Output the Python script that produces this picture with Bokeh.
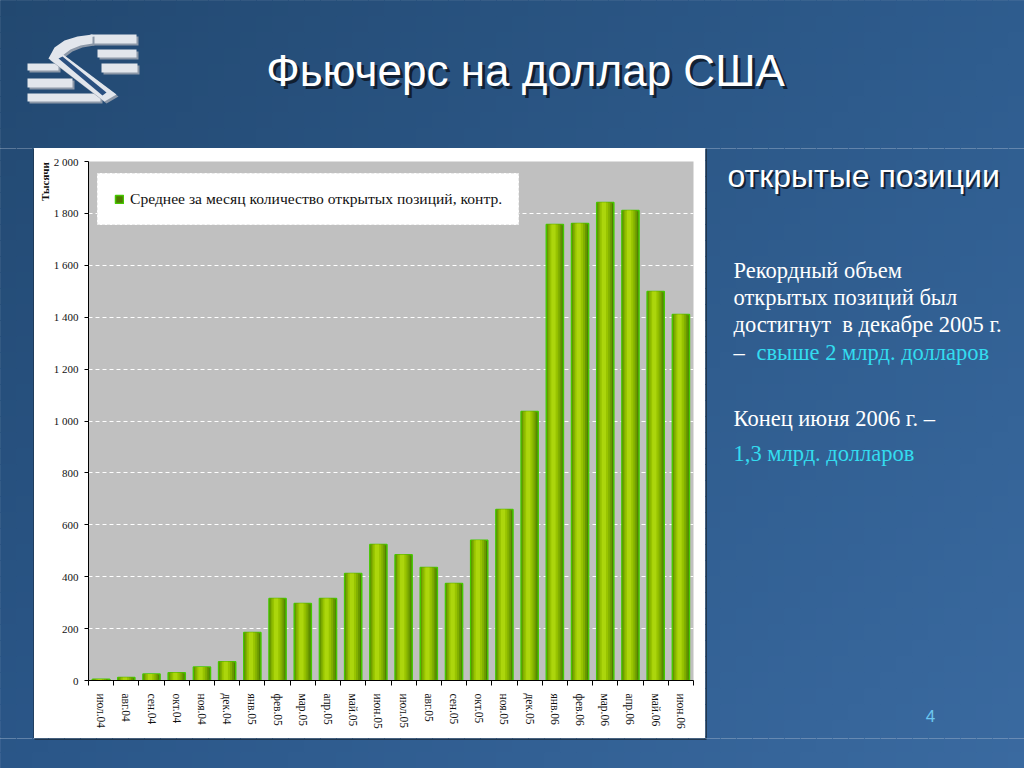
import numpy as np
from bokeh.plotting import figure
from bokeh.layouts import column, row
from bokeh.models import (Range1d, LinearAxis, FixedTicker, Legend, LegendItem,
                          ColumnDataSource, Grid)
from bokeh.core.properties import value
from bokeh.transform import dodge
from bokeh.embed import file_html
from bokeh.resources import INLINE

# ---------------- data ----------------
months = ["июл.04", "авг.04", "сен.04", "окт.04", "ноя.04", "дек.04",
          "янв.05", "фев.05", "мар.05", "апр.05", "май.05", "июн.05",
          "июл.05", "авг.05", "сен.05", "окт.05", "ноя.05", "дек.05",
          "янв.06", "фев.06", "мар.06", "апр.06", "май.06", "июн.06"]
open_interest = [5, 12, 25, 30, 52, 72,
                 185, 316, 297, 316, 412, 524,
                 485, 435, 374, 540, 659, 1037,
                 1757, 1761, 1842, 1811, 1499, 1410]
y_ticks = [0, 200, 400, 600, 800, 1000, 1200, 1400, 1600, 1800, 2000]
y_tick_labels = ["0", "200", "400", "600", "800", "1 000", "1 200",
                 "1 400", "1 600", "1 800", "2 000"]
series_name = "Среднее за месяц количество открытых позиций, контр."
title_text = "Фьючерс на доллар США"
subtitle_text = "открытые позиции"
y_unit = "Тысячи"
note_lines = ["Рекордный объем", "открытых позиций был", "достигнут\u00a0 в декабре 2005 г."]
note_dash = "–"
note_highlight = "свыше 2 млрд. долларов"
note2 = "Конец июня 2006 г. –"
note2_highlight = "1,3 млрд. долларов"
page_no = "4"

W, H = 1024, 768
BOX_L, BOX_T, BOX_R, BOX_B = 34, 148, 705, 738
SERIF = "Liberation Serif"
SANS = "Liberation Sans"
CYAN = "#33dcef"

# slide background gradient corners
TL, TR, BL, BR = (np.array([34, 72, 112]), np.array([46, 92, 142]),
                  np.array([42, 86, 136]), np.array([58, 106, 160]))


def grad_color(x, y):
    u, v = x / W, y / H
    c = TL * (1 - u) * (1 - v) + TR * u * (1 - v) + BL * (1 - u) * v + BR * u * v
    return "#%02x%02x%02x" % tuple(int(round(k)) for k in c)


def deco_fig(x0, y0, x1, y1, gradient=True, fill=None):
    f = figure(width=x1 - x0, height=y1 - y0, x_range=Range1d(x0, x1),
               y_range=Range1d(H - y1, H - y0), x_axis_type=None, y_axis_type=None,
               toolbar_location=None, output_backend="svg", min_border=0,
               frame_align=False)
    if fill is None:
        fill = grad_color((x0 + x1) / 2, (y0 + y1) / 2)
    f.outline_line_color = None
    f.border_fill_color = fill
    f.background_fill_color = fill
    if gradient:
        cs = 16
        L, R, T, B, C = [], [], [], [], []
        for gx in range((x0 // cs) * cs - cs, x1 + cs, cs):
            for gy in range((y0 // cs) * cs - cs, y1 + cs, cs):
                L.append(gx)
                R.append(gx + cs)
                T.append(H - gy)
                B.append(H - gy - cs)
                C.append(grad_color(gx + cs / 2, gy + cs / 2))
        f.quad(left=L, right=R, top=T, bottom=B, fill_color=C, line_color=C, line_width=1)
    return f


def txt(f, x, y, text, size, color="#ffffff", font=SANS, align="left", shadow=None,
        style="normal", angle=0.0):
    if shadow:
        f.text(x=[x + shadow], y=[H - y - shadow], text=[text], text_font=value(font),
               text_font_size=value(size), text_color="#0a0f18", text_alpha=0.75,
               text_align=align, text_baseline="middle", text_font_style=style, angle=angle)
    f.text(x=[x], y=[H - y], text=[text], text_font=value(font), text_font_size=value(size),
           text_color=color, text_align=align, text_baseline="middle",
           text_font_style=style, angle=angle)


# ---------------- top strip: logo + title ----------------
top = deco_fig(0, 0, W, BOX_T, fill=grad_color(W / 2, BOX_T))
silver = "#e2e6ec"
shade = "#8c98a8"
bars_l = [90, 97, 101, 27, 27, 27]
bars_r = [136, 136, 137, 58, 72, 100]
bars_t = [34, 49, 63, 63, 78, 93]
bars_b = [43, 57, 72, 70, 87, 101]
top.quad(left=[v + 2 for v in bars_l], right=[v + 2 for v in bars_r],
         top=[H - v - 2 for v in bars_t], bottom=[H - v - 2 for v in bars_b],
         fill_color=shade, line_color=None)
top.quad(left=bars_l, right=bars_r, top=[H - v for v in bars_t], bottom=[H - v for v in bars_b],
         fill_color=silver, line_color=None)
arc_x = [48, 54, 64, 77, 92, 92, 80, 70, 62, 57]
arc_y = [58, 47, 40, 36, 34, 43, 45, 49, 55, 61]
top.patch(x=[v + 2 for v in arc_x], y=[H - v - 2 for v in arc_y], fill_color=shade, line_color=None)
top.patch(x=arc_x, y=[H - v for v in arc_y], fill_color=silver, line_color=None)
diag_x = [48, 60, 116, 104]
diag_y = [58, 52, 94, 101]
top.patch(x=[v + 2 for v in diag_x], y=[H - v - 2 for v in diag_y], fill_color=shade, line_color=None)
top.patch(x=diag_x, y=[H - v for v in diag_y], fill_color=silver, line_color=None)
slit_x = [58, 62, 106, 102]
slit_y = [58, 56, 92, 95]
top.patch(x=slit_x, y=[H - v for v in slit_y], fill_color="#2a5080", line_color=None)
txt(top, 525, 70, title_text, "44px", align="center", shadow=3)

# ---------------- middle row ----------------
left_strip = deco_fig(0, BOX_T, BOX_L, BOX_B)
left_strip.segment(x0=[BOX_L - 0.5], y0=[H - BOX_T], x1=[BOX_L - 0.5], y1=[H - BOX_B],
                   line_color="#1a2a3a", line_width=1)

unit_strip = deco_fig(BOX_L, BOX_T, 50, BOX_B, gradient=False, fill="#ffffff")
txt(unit_strip, 44, 181, y_unit, "11px", color="#111111", font=SERIF, align="center",
    style="bold", angle=np.pi / 2)

src = ColumnDataSource(dict(x=list(range(len(months))), top=open_interest))
FL, FR, FT, FB = 88, 693, 161, 680
p = figure(width=BOX_R - 50, height=BOX_B - BOX_T,
           x_range=Range1d(-0.5, len(months) - 0.5), y_range=Range1d(0, 2000),
           x_axis_type=None, y_axis_type=None, toolbar_location=None, output_backend="svg",
           min_border_left=FL - 50, min_border_right=BOX_R - FR,
           min_border_top=FT - BOX_T, min_border_bottom=BOX_B - FB, frame_align=False)
p.border_fill_color = "#ffffff"
p.background_fill_color = "#c0c0c0"
p.outline_line_color = None

yaxis = LinearAxis(ticker=FixedTicker(ticks=y_ticks),
                   major_label_overrides={t: l for t, l in zip(y_ticks, y_tick_labels)})
yaxis.major_label_text_font = SERIF
yaxis.major_label_text_font_size = "11px"
yaxis.major_label_text_color = "#111111"
yaxis.major_tick_in = 0
yaxis.major_tick_out = 4
yaxis.minor_tick_line_color = None
yaxis.axis_line_color = "#000000"
yaxis.major_tick_line_color = "#000000"
yaxis.major_label_standoff = 6
p.add_layout(yaxis, "left")
p.add_layout(Grid(dimension=1, ticker=yaxis.ticker, grid_line_color="#ffffff",
                  grid_line_dash="4 3", grid_line_width=1))

xl = LinearAxis(ticker=FixedTicker(ticks=list(range(len(months))),
                                   minor_ticks=[i - 0.5 for i in range(len(months) + 1)]),
                major_label_overrides={i: m for i, m in enumerate(months)})
xl.major_label_orientation = "vertical"
xl.major_label_text_font = SERIF
xl.major_label_text_font_size = "11.5px"
xl.major_label_text_color = "#111111"
xl.axis_line_color = "#000000"
xl.major_tick_line_color = None
xl.minor_tick_line_color = "#000000"
xl.minor_tick_in = 0
xl.minor_tick_out = 5
xl.major_label_standoff = 7
p.add_layout(xl, "below")

r0 = p.vbar(x="x", top="top", width=0.68, source=src, fill_color="#4f7c00",
            line_color="#46c800", line_width=1.5)
layers = [(0.58, -0.02, "#6a9800"), (0.46, -0.035, "#82b000"),
          (0.32, -0.045, "#98c400"), (0.17, -0.055, "#acd60c")]
for w, dx, col in layers:
    p.vbar(x=dodge("x", dx, range=p.x_range), top="top", width=w, source=src,
           fill_color=col, line_color=None)

legend = Legend(items=[LegendItem(label=series_name, renderers=[r0])],
                location=(9, FB - 225), orientation="vertical")
legend.background_fill_color = "#ffffff"
legend.background_fill_alpha = 1
legend.border_line_color = "#d8d8d8"
legend.border_line_dash = "4 3"
legend.label_text_font = SERIF
legend.label_text_font_size = "15.6px"
legend.label_text_color = "#111111"
legend.glyph_width = 10
legend.glyph_height = 10
legend.padding = 16
legend.label_standoff = 6
legend.margin = 0
p.add_layout(legend, "center")

right = deco_fig(BOX_R, BOX_T, W, BOX_B)
right.segment(x0=[BOX_R + 0.5], y0=[H - BOX_T], x1=[BOX_R + 0.5], y1=[H - BOX_B],
              line_color="#1a2a3a", line_width=1.5)
txt(right, 727, 175, subtitle_text, "32px", shadow=2)
for i, line in enumerate(note_lines):
    txt(right, 733, 270 + 27 * i, line, "22.5px", font=SERIF)
txt(right, 733, 352, note_dash, "22.5px", font=SERIF)
txt(right, 756, 352, note_highlight, "22.5px", color=CYAN, font=SERIF)
txt(right, 733, 418, note2, "22.5px", font=SERIF)
txt(right, 733, 453, note2_highlight, "22.5px", color=CYAN, font=SERIF)
txt(right, 930, 715, page_no, "17px", color="#6cc8f0", align="center")

bottom = deco_fig(0, BOX_B, W, H, fill=grad_color(W / 2, BOX_B))
bottom.segment(x0=[BOX_L], y0=[H - BOX_B - 0.5], x1=[BOX_R + 1], y1=[H - BOX_B - 0.5],
               line_color="#1a2a3a", line_width=1.5)

layout = column(top, row(left_strip, unit_strip, p, right, spacing=0), bottom, spacing=0)
open("out.html", "w").write(file_html(layout, INLINE))
